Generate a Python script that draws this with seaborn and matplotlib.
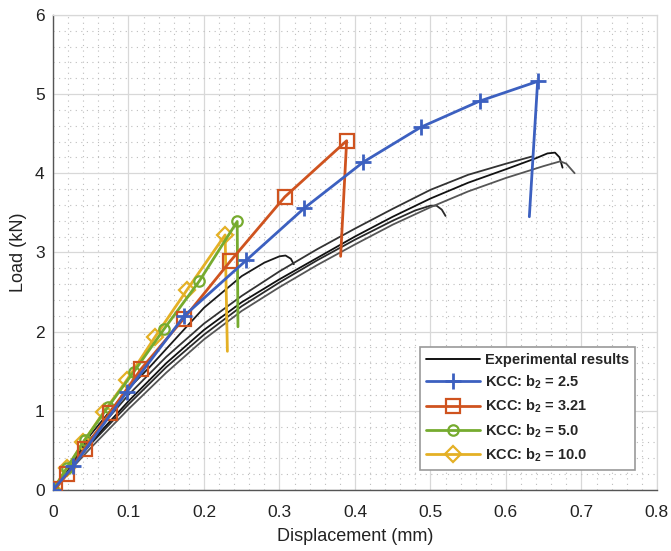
import numpy as np
import pandas as pd
import matplotlib
matplotlib.use("Agg")
import matplotlib.pyplot as plt
from matplotlib.ticker import MultipleLocator, FixedLocator, FixedFormatter
from matplotlib.lines import Line2D
import seaborn as sns

# ---------------- data ----------------
x_ticks = [0, 0.1, 0.2, 0.3, 0.4, 0.5, 0.6, 0.7, 0.8]
x_tick_labels = ["0", "0.1", "0.2", "0.3", "0.4", "0.5", "0.6", "0.7", "0.8"]
y_ticks = [0, 1, 2, 3, 4, 5, 6]
y_tick_labels = ["0", "1", "2", "3", "4", "5", "6"]

# experimental curves
exp1_x = [0, 0.02, 0.05, 0.1, 0.128, 0.15, 0.2, 0.25, 0.28, 0.3, 0.308, 0.315, 0.319]
exp1_y = [0, 0.28, 0.70, 1.28, 1.55, 1.78, 2.30, 2.70, 2.87, 2.95, 2.96, 2.92, 2.85]
exp2_x = [0, 0.02, 0.05, 0.1, 0.15, 0.2, 0.25, 0.3, 0.35, 0.4, 0.45, 0.48, 0.5, 0.508, 0.515, 0.52]
exp2_y = [0, 0.24, 0.58, 1.08, 1.55, 1.96, 2.32, 2.62, 2.90, 3.16, 3.40, 3.53, 3.59, 3.59, 3.54, 3.46]
exp3_x = [0, 0.02, 0.05, 0.1, 0.15, 0.2, 0.25, 0.3, 0.35, 0.4, 0.45, 0.5, 0.55, 0.6, 0.634]
exp3_y = [0, 0.27, 0.65, 1.20, 1.68, 2.10, 2.45, 2.76, 3.04, 3.30, 3.55, 3.79, 3.98, 4.12, 4.21]
exp4_x = [0, 0.02, 0.05, 0.1, 0.15, 0.2, 0.25, 0.3, 0.35, 0.4, 0.45, 0.5, 0.55, 0.6, 0.64, 0.655, 0.665, 0.671, 0.675]
exp4_y = [0, 0.25, 0.60, 1.12, 1.60, 2.02, 2.37, 2.66, 2.93, 3.20, 3.45, 3.68, 3.88, 4.05, 4.19, 4.25, 4.26, 4.20, 4.07]
exp5_x = [0, 0.02, 0.05, 0.1, 0.15, 0.2, 0.25, 0.3, 0.35, 0.4, 0.45, 0.5, 0.55, 0.6, 0.65, 0.672, 0.68, 0.691]
exp5_y = [0, 0.22, 0.53, 1.02, 1.48, 1.90, 2.26, 2.56, 2.84, 3.10, 3.35, 3.57, 3.77, 3.94, 4.09, 4.15, 4.12, 4.00]

# KCC model curves (last point = post-peak drop, no marker)
b25_x = [0, 0.027, 0.098, 0.174, 0.256, 0.333, 0.411, 0.487, 0.565, 0.642, 0.631]
b25_y = [0, 0.30, 1.24, 2.20, 2.90, 3.56, 4.14, 4.58, 4.91, 5.16, 3.45]
b321_x = [0.003, 0.019, 0.042, 0.075, 0.117, 0.173, 0.235, 0.307, 0.389, 0.381]
b321_y = [0.01, 0.20, 0.52, 0.97, 1.53, 2.16, 2.89, 3.70, 4.41, 2.95]
b50_x = [0, 0.018, 0.042, 0.073, 0.107, 0.147, 0.194, 0.244, 0.245]
b50_y = [0, 0.27, 0.63, 1.05, 1.49, 2.03, 2.64, 3.39, 2.06]
b100_x = [0, 0.018, 0.040, 0.067, 0.098, 0.135, 0.177, 0.228, 0.231]
b100_y = [0, 0.27, 0.60, 0.98, 1.39, 1.93, 2.52, 3.22, 1.75]

labels = ["Experimental results", r"KCC: b$_\mathbf{2}$ = 2.5", r"KCC: b$_\mathbf{2}$ = 3.21",
          r"KCC: b$_\mathbf{2}$ = 5.0", r"KCC: b$_\mathbf{2}$ = 10.0"]

# ---------------- styling ----------------
sns.set_theme(style="white")
plt.rcParams["font.family"] = ["Liberation Sans", "DejaVu Sans"]
plt.rcParams["mathtext.fontset"] = "custom"
plt.rcParams["mathtext.rm"] = "Liberation Sans"
plt.rcParams["mathtext.bf"] = "Liberation Sans:bold"

fig = plt.figure(figsize=(6.71, 5.51), dpi=100)
fig.subplots_adjust(left=0.079, right=0.979, bottom=0.111, top=0.973)
ax = fig.add_subplot(111)

c_blue = "#3c60c0"
c_red = "#cf531f"
c_green = "#76ab2f"
c_yellow = "#e4b025"

exp_sets = [(exp1_x, exp1_y, "#1a1a1a"), (exp2_x, exp2_y, "#2a2a2a"),
            (exp3_x, exp3_y, "#333333"), (exp4_x, exp4_y, "#111111"),
            (exp5_x, exp5_y, "#555555")]
for ex, ey, col in exp_sets:
    sns.lineplot(x=ex, y=ey, ax=ax, sort=False, estimator=None, color=col,
                 linewidth=1.3, legend=False, zorder=2)

model_sets = [
    (b100_x, b100_y, c_yellow, "D", 8.5, "none", 1.6),
    (b50_x, b50_y, c_green, "o", 7.5, "none", 1.6),
    (b321_x, b321_y, c_red, "s", 9.5, "none", 1.6),
    (b25_x, b25_y, c_blue, "+", 12, c_blue, 2.0),
]
for mx, my, col, mk, ms, mfc, mew in model_sets:
    n = len(mx)
    sns.lineplot(x=mx, y=my, ax=ax, sort=False, estimator=None, color=col,
                 linewidth=2.0, marker=mk, markersize=ms, markerfacecolor=mfc,
                 markeredgecolor=col, markeredgewidth=mew,
                 markevery=list(range(n - 1)), legend=False, zorder=3)

ax.set_xlim(0, 0.8)
ax.set_ylim(0, 6)
ax.xaxis.set_major_locator(FixedLocator(x_ticks))
ax.xaxis.set_major_formatter(FixedFormatter(x_tick_labels))
ax.yaxis.set_major_locator(FixedLocator(y_ticks))
ax.yaxis.set_major_formatter(FixedFormatter(y_tick_labels))
ax.xaxis.set_minor_locator(MultipleLocator(0.02))
ax.yaxis.set_minor_locator(MultipleLocator(0.2))

ax.grid(which="major", color="#d8d8d8", linewidth=0.9, linestyle="-", zorder=0)
ax.grid(which="minor", color="#bdbdbd", linewidth=0.8, linestyle=(0, (1, 4)), zorder=0)
ax.set_axisbelow(True)

ax.tick_params(which="major", direction="in", length=5, width=1, color="#444444",
               labelsize=12.5, labelcolor="#222222")
ax.tick_params(axis="x", which="major", pad=11)
ax.tick_params(axis="y", which="major", pad=6)
ax.tick_params(which="minor", length=0)
ax.tick_params(top=False, right=False)

for s in ["left", "bottom"]:
    ax.spines[s].set_color("#555555")
    ax.spines[s].set_linewidth(1.0)
for s in ["top", "right"]:
    ax.spines[s].set_color("#d8d8d8")
    ax.spines[s].set_linewidth(0.9)

ax.set_xlabel("Displacement (mm)", fontsize=13, color="#222222", labelpad=6)
ax.set_ylabel("Load (kN)", fontsize=13, color="#222222", labelpad=6)

handles = [
    Line2D([], [], color="black", linewidth=1.3),
    Line2D([], [], color=c_blue, linewidth=2.0, marker="+", markersize=12, markeredgewidth=2.0),
    Line2D([], [], color=c_red, linewidth=2.0, marker="s", markersize=9.5, markerfacecolor="none", markeredgewidth=1.6),
    Line2D([], [], color=c_green, linewidth=2.0, marker="o", markersize=7.5, markerfacecolor="none", markeredgewidth=1.6),
    Line2D([], [], color=c_yellow, linewidth=2.0, marker="D", markersize=8.5, markerfacecolor="none", markeredgewidth=1.6),
]
leg = ax.legend(handles, labels, loc="lower right", bbox_to_anchor=(0.975, 0.027),
                prop={"weight": "bold", "size": 10.5}, handlelength=3.7,
                handletextpad=0.3, labelspacing=0.45, borderpad=0.4,
                frameon=True, fancybox=False, framealpha=1.0, edgecolor="#999999")
leg.get_frame().set_linewidth(1.2)

fig.savefig("out.png", dpi=100)
